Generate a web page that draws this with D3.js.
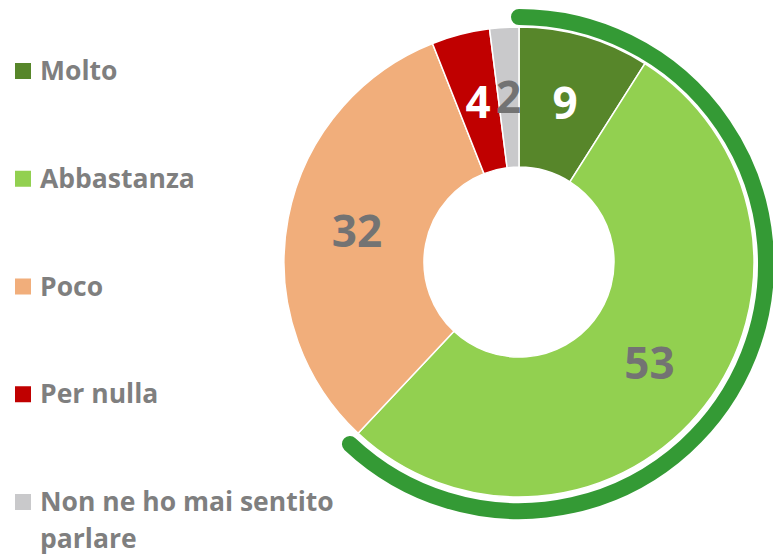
<!DOCTYPE html>
<html lang="it">
<head>
    <meta charset="UTF-8">
    <title>Donut</title>
    <script src="https://d3js.org/d3.v7.min.js"></script>
    <style>
        body { margin: 0; background: #fff; }
        svg { display: block; }
    </style>
</head>
<body>
    <script>
        var categories = ["Molto", "Abbastanza", "Poco", "Per nulla", "Non ne ho mai sentito parlare"];
        var values = [9, 53, 32, 4, 2];
        var colors = ["#57862a", "#92d050", "#f1ae7b", "#c00000", "#c9c9cb"];
        var labelColors = ["#ffffff", "#737373", "#737373", "#ffffff", "#737373"];
        // legend lines (last item wraps)
        var legendLines = [["Molto"], ["Abbastanza"], ["Poco"], ["Per nulla"], ["Non ne ho mai sentito", "parlare"]];
        // highlighted group: Molto + Abbastanza
        var highlight = ["Molto", "Abbastanza"];

        var w = 773;
        var h = 556;
        var cx = 519, cy = 262;
        var outerR = 235, innerR = 95;

        var svg = d3.select("body")
            .append("svg")
            .attr("width", w)
            .attr("height", h);

        var pie = d3.pie().sort(null).value(function(d) { return d; });
        var arcs = pie(values);

        var arc = d3.arc().innerRadius(innerR).outerRadius(outerR);
        var labelArc = d3.arc().innerRadius((innerR + outerR) / 2).outerRadius((innerR + outerR) / 2);

        var g = svg.append("g").attr("transform", "translate(" + cx + "," + cy + ")");

        g.selectAll("path.slice")
            .data(arcs)
            .enter()
            .append("path")
            .attr("class", "slice")
            .attr("d", arc)
            .attr("fill", function(d, i) { return colors[i]; })
            .attr("stroke", "#fff")
            .attr("stroke-width", 1.5);

        g.selectAll("text.val")
            .data(arcs)
            .enter()
            .append("text")
            .attr("class", "val")
            .attr("transform", function(d) { return "translate(" + labelArc.centroid(d) + ")"; })
            .attr("text-anchor", "middle")
            .attr("dy", "0.36em")
            .attr("font-family", "'Open Sans', sans-serif")
            .attr("font-weight", "bold")
            .attr("font-size", "44px")
            .attr("fill", function(d, i) { return labelColors[i]; })
            .text(function(d) { return d.value; });

        // outer highlight arc
        var hiEnd = arcs[categories.indexOf(highlight[highlight.length - 1])].endAngle;
        var hiStart = arcs[categories.indexOf(highlight[0])].startAngle;
        var ringR = 247;
        var hiPath = d3.path();
        hiPath.arc(0, 0, ringR, hiStart - Math.PI / 2, hiEnd - Math.PI / 2);
        svg.append("path")
            .attr("transform", "translate(" + cx + "," + (cy + 2) + ")")
            .attr("d", hiPath.toString().replace(/^M[^A]*L/, "M"))
            .attr("fill", "none")
            .attr("stroke", "#349a35")
            .attr("stroke-width", 16)
            .attr("stroke-linecap", "round");

        // legend
        var legendY = d3.scalePoint()
            .domain(categories)
            .range([71, 502]);

        var legend = svg.selectAll("g.legend")
            .data(categories)
            .enter()
            .append("g")
            .attr("class", "legend")
            .attr("transform", function(d) { return "translate(15," + legendY(d) + ")"; });

        legend.append("rect")
            .attr("x", 0)
            .attr("y", -8)
            .attr("width", 16)
            .attr("height", 16)
            .attr("fill", function(d, i) { return colors[i]; });

        legend.append("text")
            .attr("x", 25)
            .attr("y", 9)
            .attr("font-family", "'Open Sans', sans-serif")
            .attr("font-weight", "bold")
            .attr("font-size", "26.5px")
            .attr("fill", "#7f7f7f")
            .selectAll("tspan")
            .data(function(d, i) { return legendLines[i]; })
            .enter()
            .append("tspan")
            .attr("x", 25)
            .attr("dy", function(d, i) { return i === 0 ? 0 : 37; })
            .text(function(d) { return d; });
    </script>
</body>
</html>
